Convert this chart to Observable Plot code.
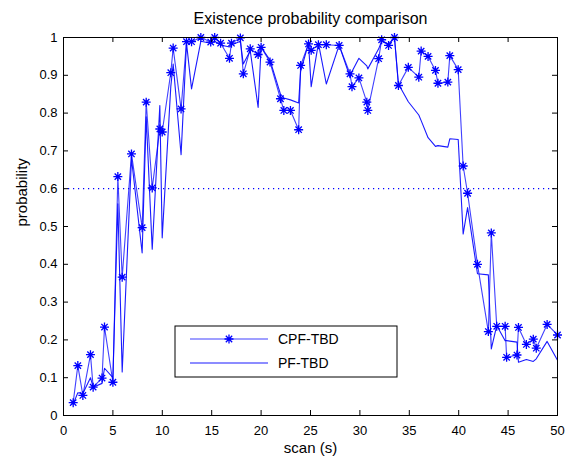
<!DOCTYPE html>
<html>
<head>
<meta charset="utf-8">
<script src="https://cdn.jsdelivr.net/npm/d3@7"></script>
<script src="https://cdn.jsdelivr.net/npm/@observablehq/plot@0.6"></script>
<style>
  html, body { margin: 0; padding: 0; background: #fff; }
  #chart { position: relative; width: 571px; height: 457px; }
</style>
</head>
<body>
<div id="chart"></div>
<script>
// ---- data ----
const chartTitle = "Existence probability comparison";
const xLabel = "scan (s)";
const yLabel = "probability";
const seriesNames = ["CPF-TBD", "PF-TBD"];
const threshold = 0.6;

const scanTimes = [
  0.98, 1.45, 1.96, 2.73, 3.0, 3.9, 4.15, 5.0, 5.5, 5.94,
  6.88, 7.96, 8.37, 8.98, 9.75, 9.99, 10.86, 11.1, 11.9, 12.45,
  12.96, 13.9, 14.9, 15.3, 15.9, 16.8, 17.0, 17.9, 18.2, 18.9,
  19.7, 20.0, 20.9, 21.96, 22.3, 22.97, 23.8, 24.0, 24.8, 25.07,
  25.8, 26.6, 27.9, 29.0, 29.2, 29.9, 30.7, 30.8, 31.9, 32.2,
  32.9, 33.5, 33.9, 34.9, 35.96, 36.2, 36.9, 37.65, 37.9, 38.9,
  39.1, 39.95, 40.45, 40.9, 41.9, 43.0, 43.3, 43.85, 44.7, 44.85,
  45.9, 46.05, 46.85, 47.55, 47.85, 48.95, 50.0
];
const cpfValues = [
  0.034, 0.132, 0.053, 0.161, 0.075, 0.099, 0.234, 0.088, 0.632, 0.366,
  0.692, 0.497, 0.829, 0.602, 0.758, 0.750, 0.907, 0.972, 0.811, 0.989,
  0.989, 1.000, 0.988, 1.000, 0.985, 0.945, 0.985, 0.999, 0.904, 0.970,
  0.955, 0.974, 0.935, 0.838, 0.807, 0.807, 0.756, 0.926, 0.983, 0.966,
  0.981, 0.981, 0.979, 0.904, 0.870, 0.893, 0.829, 0.807, 0.944, 0.994,
  0.979, 1.000, 0.873, 0.921, 0.895, 0.964, 0.950, 0.913, 0.879, 0.882,
  0.952, 0.915, 0.660, 0.588, 0.400, 0.222, 0.483, 0.236, 0.236, 0.154,
  0.160, 0.233, 0.188, 0.202, 0.178, 0.241, 0.213
];
const pfValues = [
  0.030, 0.060, 0.058, 0.100, 0.075, 0.085, 0.125, 0.100, 0.560, 0.115,
  0.680, 0.430, 0.790, 0.440, 0.820, 0.470, 0.870, 0.930, 0.690, 0.985,
  0.864, 0.990, 0.985, 0.990, 0.980, 0.975, 0.980, 0.990, 0.930, 0.965,
  0.815, 0.975, 0.940, 0.850, 0.840, 0.835, 0.827, 0.910, 0.985, 0.870,
  0.985, 0.877, 0.980, 0.895, 0.910, 0.945, 0.925, 0.917, 0.970, 0.990,
  0.983, 1.000, 0.877, 0.830, 0.795, 0.780, 0.735, 0.712, 0.714, 0.710,
  0.732, 0.730, 0.480, 0.550, 0.375, 0.372, 0.176, 0.238, 0.198, 0.198,
  0.194, 0.141, 0.148, 0.143, 0.150, 0.196, 0.146
];
const xTicks = [0, 5, 10, 15, 20, 25, 30, 35, 40, 45, 50];
const yTicks = [0, 0.1, 0.2, 0.3, 0.4, 0.5, 0.6, 0.7, 0.8, 0.9, 1];

// ---- build tables ----
const cpf = scanTimes.map((t, i) => ({t, p: cpfValues[i]}));
const pf = scanTimes.map((t, i) => ({t, p: pfValues[i]}));

const W = 571, H = 457;
const mL = 63, mR = 14, mT = 37, mB = 42;
const innerW = W - mL - mR, innerH = H - mT - mB;
const tickLen = 5;
const blue = "#0000ff";
const font = "'Liberation Sans', Arial, Helvetica, sans-serif";

const asterisk = {
  draw(ctx, size) {
    const r = Math.sqrt(size / Math.PI);
    const d = r * Math.SQRT1_2;
    ctx.moveTo(-r, 0); ctx.lineTo(r, 0);
    ctx.moveTo(0, -r); ctx.lineTo(0, r);
    ctx.moveTo(-d, -d); ctx.lineTo(d, d);
    ctx.moveTo(-d, d); ctx.lineTo(d, -d);
  }
};

const chart = Plot.plot({
  width: W, height: H,
  marginLeft: mL, marginRight: mR, marginTop: mT, marginBottom: mB,
  style: {fontFamily: font, fontSize: "13px", color: "#000", background: "#fff", overflow: "visible"},
  x: {domain: [0, 50], ticks: xTicks, tickSize: 0, tickPadding: 10, tickFormat: d => String(d), label: null},
  y: {domain: [0, 1], ticks: yTicks, tickSize: 0, tickPadding: 6, tickFormat: d => String(d), label: null},
  marks: [
    Plot.ruleY([threshold], {stroke: blue, strokeWidth: 1.2, strokeDasharray: "1.2,3.8"}),
    Plot.line(pf, {x: "t", y: "p", stroke: blue, strokeWidth: 1.1, strokeOpacity: 0.9}),
    Plot.line(cpf, {x: "t", y: "p", stroke: blue, strokeWidth: 1.1, strokeOpacity: 0.75}),
    Plot.dot(cpf, {x: "t", y: "p", symbol: asterisk, r: 4.5, stroke: blue, fill: "none", strokeWidth: 1.3}),
    // inward ticks on all four sides
    Plot.ruleX(xTicks, {stroke: "#000", insetTop: innerH - tickLen}),
    Plot.ruleX(xTicks, {stroke: "#000", insetBottom: innerH - tickLen}),
    Plot.ruleY(yTicks, {stroke: "#000", insetRight: innerW - tickLen}),
    Plot.ruleY(yTicks, {stroke: "#000", insetLeft: innerW - tickLen}),
    Plot.frame({stroke: "#000"}),
    Plot.text([chartTitle], {frameAnchor: "top", lineAnchor: "middle", dy: -19, fontSize: 16, fill: "#000", letterSpacing: "0.8px"}),
    Plot.text([xLabel], {frameAnchor: "bottom", lineAnchor: "middle", dy: 33, fontSize: 15, fill: "#000", letterSpacing: "0.6px"}),
    Plot.text([yLabel], {frameAnchor: "left", lineAnchor: "middle", dx: -41, rotate: -90, fontSize: 15, fill: "#000", letterSpacing: "0.3px"})
  ]
});
document.getElementById("chart").appendChild(chart);

// ---- legend box (MATLAB style) ----
const svg = d3.select(chart);
const lg = svg.append("g").attr("font-family", font).attr("font-size", 14).attr("text-anchor", "start");
const lx = 175, ly = 326, lw = 222, lh = 51;
lg.append("rect").attr("x", lx).attr("y", ly).attr("width", lw).attr("height", lh)
  .attr("fill", "#fff").attr("stroke", "#000");
const rows = [ly + 13, ly + 37];
seriesNames.forEach((name, i) => {
  const yy = rows[i];
  lg.append("line").attr("x1", lx + 15).attr("x2", lx + 93).attr("y1", yy).attr("y2", yy)
    .attr("stroke", blue).attr("stroke-width", 1.1).attr("stroke-opacity", i === 0 ? 0.75 : 0.9);
  if (i === 0) {
    const cx = lx + 54, r = 4.5, d = r * Math.SQRT1_2;
    lg.append("path").attr("fill", "none").attr("stroke", blue).attr("stroke-width", 1.3)
      .attr("d", `M${cx - r},${yy}H${cx + r}M${cx},${yy - r}V${yy + r}M${cx - d},${yy - d}L${cx + d},${yy + d}M${cx - d},${yy + d}L${cx + d},${yy - d}`);
  }
  lg.append("text").attr("x", lx + 103).attr("y", yy).attr("dy", "0.35em")
    .attr("text-anchor", "start").attr("fill", "#000").text(name);
});
</script>
</body>
</html>
